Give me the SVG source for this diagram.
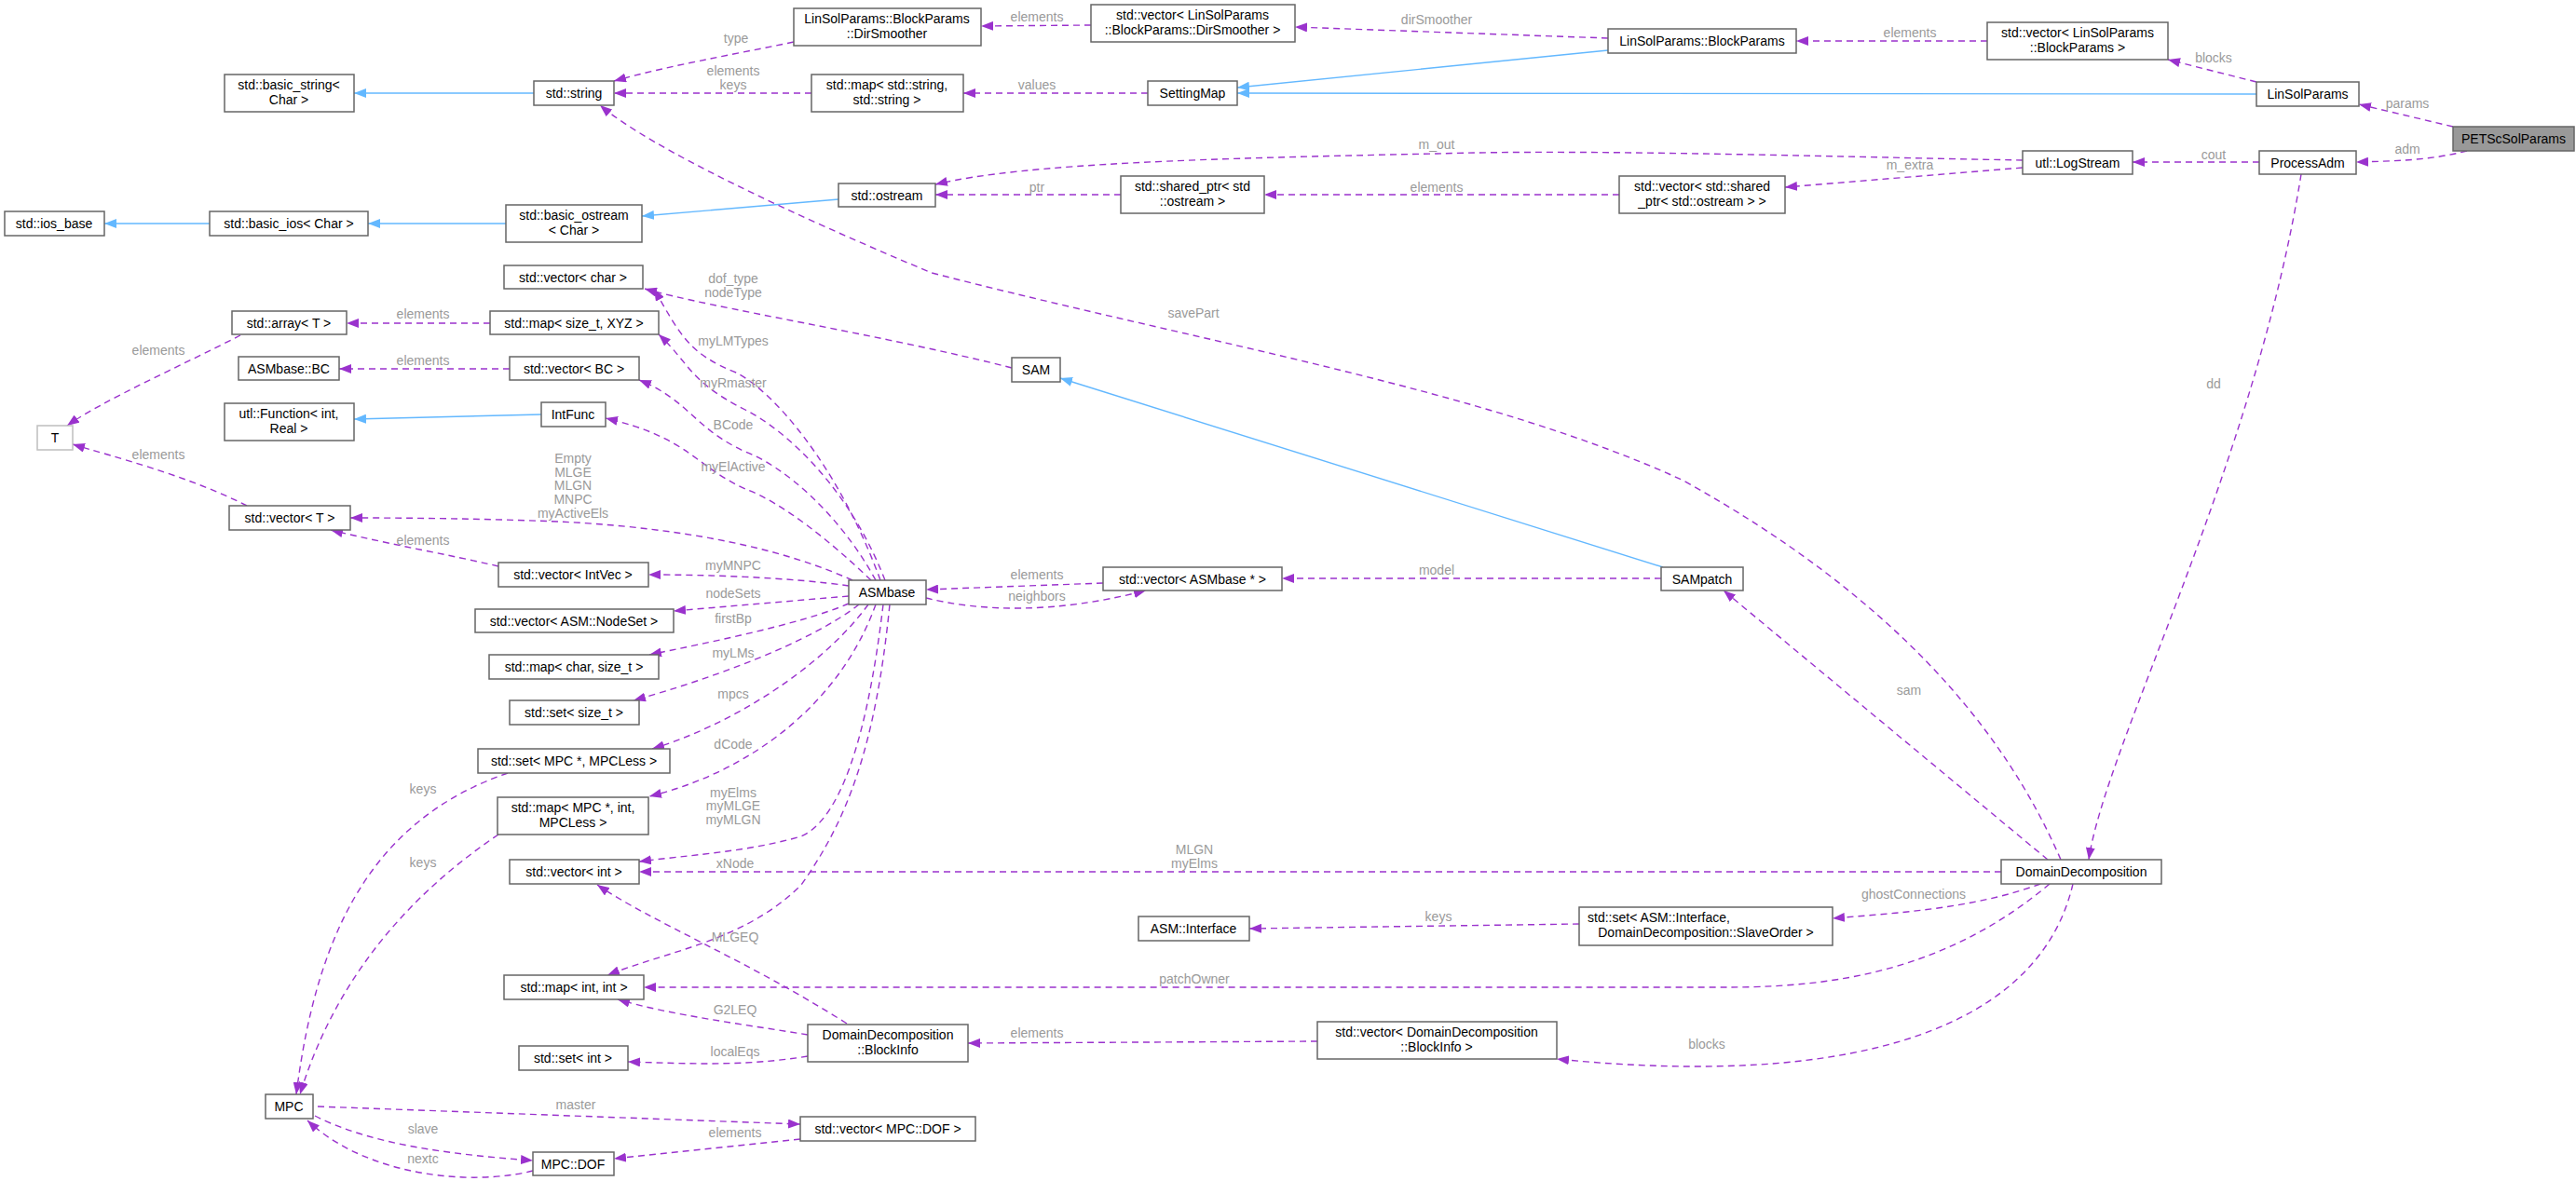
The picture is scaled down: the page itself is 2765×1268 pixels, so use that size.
<svg xmlns="http://www.w3.org/2000/svg" width="2765" height="1268" viewBox="0 0 2765 1268">
<style>
.n rect{fill:#fff;stroke:#666;stroke-width:1.5}
.n text{font-family:"Liberation Sans",Arial,sans-serif;font-size:14px;fill:#000;text-anchor:middle}
.e path{fill:none;stroke:#9a32cd;stroke-width:1.4;stroke-dasharray:7,5}
.i path{fill:none;stroke:#63b8ff;stroke-width:1.4}
.l{font-family:"Liberation Sans",Arial,sans-serif;font-size:14px;fill:#9a9a9a;text-anchor:middle}
</style>
<defs>
<marker id="a" markerUnits="userSpaceOnUse" markerWidth="14" markerHeight="10" refX="13" refY="5" orient="auto"><path d="M0,0 L13,5 L0,10 z" fill="#9a32cd"/></marker>
<marker id="b" markerUnits="userSpaceOnUse" markerWidth="14" markerHeight="10" refX="13" refY="5" orient="auto"><path d="M0,0 L13,5 L0,10 z" fill="#63b8ff"/></marker>
</defs>
<rect width="2765" height="1268" fill="#fff"/>
<g id="connectors">
<g class="i">
<path marker-end="url(#b)" d="M573,100 L380,100"/>
<path marker-end="url(#b)" d="M543,240 L395,240"/>
<path marker-end="url(#b)" d="M225,240 L112,240"/>
<path marker-end="url(#b)" d="M900,214 L689,232"/>
<path marker-end="url(#b)" d="M1726,54 L1328,94"/>
<path marker-end="url(#b)" d="M2422,101 L1328,100"/>
<path marker-end="url(#b)" d="M581,445 L380,450"/>
<path marker-end="url(#b)" d="M1785,609 L1138,406"/>
</g>
<g class="e">
<path marker-end="url(#a)" d="M1171,27 L1053,28"/>
<path marker-end="url(#a)" d="M852,45 C780,60 720,70 659,87"/>
<path marker-end="url(#a)" d="M1726,41 L1390,29"/>
<path marker-end="url(#a)" d="M2133,44 L1928,44"/>
<path marker-end="url(#a)" d="M2422,88 L2327,64"/>
<path marker-end="url(#a)" d="M2633,136 L2532,112"/>
<path marker-end="url(#a)" d="M2648,162 C2610,172 2570,173 2529,174"/>
<path marker-end="url(#a)" d="M2425,174 L2289,174"/>
<path marker-end="url(#a)" d="M2171,172 C1950,168 1700,160 1542,165 C1300,170 1100,175 1004,198"/>
<path marker-end="url(#a)" d="M2171,180 L1916,201"/>
<path marker-end="url(#a)" d="M1738,209 L1357,209"/>
<path marker-end="url(#a)" d="M1203,209 L1004,209"/>
<path marker-end="url(#a)" d="M871,100 L659,100"/>
<path marker-end="url(#a)" d="M1232,100 L1034,100"/>
<path marker-end="url(#a)" d="M2470,187 C2420,500 2260,800 2242,923"/>
<path marker-end="url(#a)" d="M2212,923 C2150,780 2030,640 1807,516 C1600,420 1300,370 1000,293 C850,230 700,160 644,113"/>
<path marker-end="url(#a)" d="M2198,923 L1850,634"/>
<path marker-end="url(#a)" d="M1783,621 L1376,621"/>
<path marker-end="url(#a)" d="M1184,626 L994,633"/>
<path marker-end="url(#a)" d="M994,642 C1050,656 1130,660 1230,634"/>
<path marker-end="url(#a)" d="M1086,395 C950,360 760,330 692,310"/>
<path marker-end="url(#a)" d="M945,623 C900,500 830,420 790,400 C740,380 730,360 702,310"/>
<path marker-end="url(#a)" d="M950,623 C910,520 840,460 800,440 C740,410 740,390 707,359"/>
<path marker-end="url(#a)" d="M940,623 C900,550 840,500 800,485 C745,460 740,430 686,408"/>
<path marker-end="url(#a)" d="M935,623 C890,580 840,540 800,525 C745,500 740,470 650,449"/>
<path marker-end="url(#a)" d="M526,347 L372,347"/>
<path marker-end="url(#a)" d="M547,396 L364,396"/>
<path marker-end="url(#a)" d="M258,360 C200,390 110,430 72,457"/>
<path marker-end="url(#a)" d="M265,543 C200,510 120,490 78,477"/>
<path marker-end="url(#a)" d="M915,623 C820,580 700,565 600,560 C520,557 450,556 376,556"/>
<path marker-end="url(#a)" d="M535,608 C480,595 420,585 355,569"/>
<path marker-end="url(#a)" d="M911,629 C850,620 760,617 696,617"/>
<path marker-end="url(#a)" d="M911,640 L723,656"/>
<path marker-end="url(#a)" d="M911,648 C860,670 760,690 697,703"/>
<path marker-end="url(#a)" d="M922,649 C870,690 760,730 680,752"/>
<path marker-end="url(#a)" d="M932,649 C880,720 780,780 700,804"/>
<path marker-end="url(#a)" d="M940,649 C900,760 800,830 697,855"/>
<path marker-end="url(#a)" d="M948,649 C930,800 900,880 860,898 C800,915 740,918 686,925"/>
<path marker-end="url(#a)" d="M955,649 C940,800 910,880 860,950 C800,1010 720,1020 652,1047"/>
<path marker-end="url(#a)" d="M545,830 C400,880 340,1000 318,1175"/>
<path marker-end="url(#a)" d="M535,896 C440,960 360,1050 322,1175"/>
<path marker-end="url(#a)" d="M2148,936 L686,936"/>
<path marker-end="url(#a)" d="M2190,949 C2120,975 2040,980 1967,986"/>
<path marker-end="url(#a)" d="M1695,992 L1341,997"/>
<path marker-end="url(#a)" d="M2200,949 C2080,1050 1950,1060 1850,1060 L691,1060"/>
<path marker-end="url(#a)" d="M2225,949 C2190,1100 2000,1170 1671,1137"/>
<path marker-end="url(#a)" d="M1414,1118 L1039,1120"/>
<path marker-end="url(#a)" d="M909,1099 C800,1030 700,990 641,950"/>
<path marker-end="url(#a)" d="M867,1111 C800,1100 720,1090 663,1073"/>
<path marker-end="url(#a)" d="M867,1134 C800,1145 740,1142 674,1140"/>
<path marker-end="url(#a)" d="M341,1188 L859,1207"/>
<path marker-end="url(#a)" d="M338,1198 C400,1230 490,1240 572,1246"/>
<path marker-end="url(#a)" d="M859,1223 L659,1244"/>
<path marker-end="url(#a)" d="M572,1257 C500,1275 390,1260 330,1203"/>
</g>
<g>
<text class="l" x="1113" y="23">elements</text>
<text class="l" x="790" y="46">type</text>
<text class="l" x="1542" y="26">dirSmoother</text>
<text class="l" x="2050" y="40">elements</text>
<text class="l" x="2376" y="67">blocks</text>
<text class="l" x="2584" y="116">params</text>
<text class="l" x="2584" y="165">adm</text>
<text class="l" x="2376" y="171">cout</text>
<text class="l" x="1542" y="160">m_out</text>
<text class="l" x="2050" y="182">m_extra</text>
<text class="l" x="1542" y="206">elements</text>
<text class="l" x="1113" y="206">ptr</text>
<text class="l" x="787" y="81">elements</text>
<text class="l" x="787" y="96">keys</text>
<text class="l" x="1113" y="96">values</text>
<text class="l" x="2376" y="417">dd</text>
<text class="l" x="1281" y="341">savePart</text>
<text class="l" x="2049" y="746">sam</text>
<text class="l" x="1542" y="617">model</text>
<text class="l" x="1113" y="622">elements</text>
<text class="l" x="1113" y="645">neighbors</text>
<text class="l" x="787" y="304">dof_type</text>
<text class="l" x="787" y="319">nodeType</text>
<text class="l" x="787" y="371">myLMTypes</text>
<text class="l" x="787" y="416">myRmaster</text>
<text class="l" x="787" y="461">BCode</text>
<text class="l" x="787" y="506">myElActive</text>
<text class="l" x="454" y="342">elements</text>
<text class="l" x="454" y="392">elements</text>
<text class="l" x="170" y="381">elements</text>
<text class="l" x="170" y="493">elements</text>
<text class="l" x="615" y="497">Empty</text>
<text class="l" x="615" y="512">MLGE</text>
<text class="l" x="615" y="526">MLGN</text>
<text class="l" x="615" y="541">MNPC</text>
<text class="l" x="615" y="556">myActiveEls</text>
<text class="l" x="454" y="585">elements</text>
<text class="l" x="787" y="612">myMNPC</text>
<text class="l" x="787" y="642">nodeSets</text>
<text class="l" x="787" y="669">firstBp</text>
<text class="l" x="787" y="706">myLMs</text>
<text class="l" x="787" y="750">mpcs</text>
<text class="l" x="787" y="804">dCode</text>
<text class="l" x="787" y="856">myElms</text>
<text class="l" x="787" y="870">myMLGE</text>
<text class="l" x="787" y="885">myMLGN</text>
<text class="l" x="789" y="932">xNode</text>
<text class="l" x="454" y="852">keys</text>
<text class="l" x="454" y="931">keys</text>
<text class="l" x="1282" y="917">MLGN</text>
<text class="l" x="1282" y="932">myElms</text>
<text class="l" x="2054" y="965">ghostConnections</text>
<text class="l" x="1544" y="989">keys</text>
<text class="l" x="1282" y="1056">patchOwner</text>
<text class="l" x="1832" y="1126">blocks</text>
<text class="l" x="1113" y="1114">elements</text>
<text class="l" x="789" y="1011">MLGEQ</text>
<text class="l" x="789" y="1089">G2LEQ</text>
<text class="l" x="789" y="1134">localEqs</text>
<text class="l" x="618" y="1191">master</text>
<text class="l" x="454" y="1217">slave</text>
<text class="l" x="789" y="1221">elements</text>
<text class="l" x="454" y="1249">nextc</text>
</g>
</g>
<g class="n">
<g id="PETScSolParams"><rect x="2633" y="136" width="130" height="26" style="fill:#999"/><text x="2698" y="154">PETScSolParams</text></g>
<g id="LinSolParams"><rect x="2422" y="88" width="110" height="26"/><text x="2477" y="106">LinSolParams</text></g>
<g id="vecBlockParams"><rect x="2133" y="24" width="194" height="40"/><text x="2230" y="40">std::vector&lt; LinSolParams</text><text x="2230" y="56">::BlockParams &gt;</text></g>
<g id="BlockParams"><rect x="1726" y="31" width="202" height="26"/><text x="1827" y="49">LinSolParams::BlockParams</text></g>
<g id="vecDirSmoother"><rect x="1171" y="5" width="219" height="40"/><text x="1280" y="21">std::vector&lt; LinSolParams</text><text x="1280" y="37">::BlockParams::DirSmoother &gt;</text></g>
<g id="DirSmoother"><rect x="852" y="9" width="201" height="40"/><text x="952" y="25">LinSolParams::BlockParams</text><text x="952" y="41">::DirSmoother</text></g>
<g id="string"><rect x="573" y="87" width="86" height="26"/><text x="616" y="105">std::string</text></g>
<g id="basic_string"><rect x="241" y="80" width="139" height="40"/><text x="310" y="96">std::basic_string&lt;</text><text x="310" y="112">Char &gt;</text></g>
<g id="mapString"><rect x="871" y="80" width="163" height="40"/><text x="952" y="96">std::map&lt; std::string,</text><text x="952" y="112">std::string &gt;</text></g>
<g id="SettingMap"><rect x="1232" y="87" width="96" height="26"/><text x="1280" y="105">SettingMap</text></g>
<g id="ProcessAdm"><rect x="2425" y="162" width="104" height="25"/><text x="2477" y="180">ProcessAdm</text></g>
<g id="LogStream"><rect x="2171" y="162" width="118" height="25"/><text x="2230" y="180">utl::LogStream</text></g>
<g id="vecShared"><rect x="1738" y="189" width="178" height="40"/><text x="1827" y="205">std::vector&lt; std::shared</text><text x="1827" y="221">_ptr&lt; std::ostream &gt; &gt;</text></g>
<g id="sharedPtr"><rect x="1203" y="189" width="154" height="40"/><text x="1280" y="205">std::shared_ptr&lt; std</text><text x="1280" y="221">::ostream &gt;</text></g>
<g id="ostream"><rect x="900" y="197" width="104" height="25"/><text x="952" y="215">std::ostream</text></g>
<g id="basic_ostream"><rect x="543" y="220" width="146" height="40"/><text x="616" y="236">std::basic_ostream</text><text x="616" y="252">&lt; Char &gt;</text></g>
<g id="basic_ios"><rect x="225" y="227" width="170" height="26"/><text x="310" y="245">std::basic_ios&lt; Char &gt;</text></g>
<g id="ios_base"><rect x="5" y="227" width="107" height="26"/><text x="58" y="245">std::ios_base</text></g>
<g id="vecChar"><rect x="541" y="285" width="149" height="25"/><text x="615" y="303">std::vector&lt; char &gt;</text></g>
<g id="array"><rect x="249" y="334" width="123" height="25"/><text x="310" y="352">std::array&lt; T &gt;</text></g>
<g id="mapXYZ"><rect x="526" y="334" width="181" height="25"/><text x="616" y="352">std::map&lt; size_t, XYZ &gt;</text></g>
<g id="BC"><rect x="256" y="383" width="108" height="25"/><text x="310" y="401">ASMbase::BC</text></g>
<g id="vecBC"><rect x="547" y="383" width="139" height="25"/><text x="616" y="401">std::vector&lt; BC &gt;</text></g>
<g id="Function"><rect x="241" y="433" width="139" height="40"/><text x="310" y="449">utl::Function&lt; int,</text><text x="310" y="465">Real &gt;</text></g>
<g id="IntFunc"><rect x="581" y="432" width="69" height="26"/><text x="615" y="450">IntFunc</text></g>
<g id="T"><rect x="40" y="457" width="38" height="26" style="stroke:#bfbfbf"/><text x="59" y="475">T</text></g>
<g id="vecT"><rect x="246" y="543" width="130" height="26"/><text x="311" y="561">std::vector&lt; T &gt;</text></g>
<g id="vecIntVec"><rect x="535" y="604" width="161" height="26"/><text x="615" y="622">std::vector&lt; IntVec &gt;</text></g>
<g id="ASMbase"><rect x="911" y="623" width="83" height="26"/><text x="952" y="641">ASMbase</text></g>
<g id="vecNodeSet"><rect x="510" y="654" width="213" height="25"/><text x="616" y="672">std::vector&lt; ASM::NodeSet &gt;</text></g>
<g id="mapChar"><rect x="525" y="703" width="182" height="26"/><text x="616" y="721">std::map&lt; char, size_t &gt;</text></g>
<g id="setSize"><rect x="547" y="752" width="139" height="26"/><text x="616" y="770">std::set&lt; size_t &gt;</text></g>
<g id="setMPC"><rect x="513" y="804" width="206" height="26"/><text x="616" y="822">std::set&lt; MPC *, MPCLess &gt;</text></g>
<g id="mapMPC"><rect x="534" y="856" width="162" height="40"/><text x="615" y="872">std::map&lt; MPC *, int,</text><text x="615" y="888">MPCLess &gt;</text></g>
<g id="vecInt"><rect x="547" y="923" width="139" height="26"/><text x="616" y="941">std::vector&lt; int &gt;</text></g>
<g id="mapInt"><rect x="541" y="1047" width="150" height="26"/><text x="616" y="1065">std::map&lt; int, int &gt;</text></g>
<g id="setInt"><rect x="557" y="1123" width="117" height="26"/><text x="615" y="1141">std::set&lt; int &gt;</text></g>
<g id="BlockInfo"><rect x="867" y="1100" width="172" height="40"/><text x="953" y="1116">DomainDecomposition</text><text x="953" y="1132">::BlockInfo</text></g>
<g id="MPC"><rect x="285" y="1175" width="51" height="26"/><text x="310" y="1193">MPC</text></g>
<g id="vecDOF"><rect x="859" y="1199" width="188" height="26"/><text x="953" y="1217">std::vector&lt; MPC::DOF &gt;</text></g>
<g id="DOF"><rect x="572" y="1237" width="87" height="25"/><text x="615" y="1255">MPC::DOF</text></g>
<g id="DomainDecomposition"><rect x="2148" y="923" width="172" height="26"/><text x="2234" y="941">DomainDecomposition</text></g>
<g id="Interface"><rect x="1222" y="984" width="119" height="26"/><text x="1281" y="1002">ASM::Interface</text></g>
<g id="setInterface"><rect x="1695" y="974" width="272" height="41"/><text x="1704" y="990" style="text-anchor:start">std::set&lt; ASM::Interface,</text><text x="1831" y="1006">DomainDecomposition::SlaveOrder &gt;</text></g>
<g id="vecBlockInfo"><rect x="1414" y="1097" width="257" height="40"/><text x="1542" y="1113">std::vector&lt; DomainDecomposition</text><text x="1542" y="1129">::BlockInfo &gt;</text></g>
<g id="SAM"><rect x="1086" y="384" width="52" height="26"/><text x="1112" y="402">SAM</text></g>
<g id="vecASMbase"><rect x="1184" y="609" width="192" height="25"/><text x="1280" y="627">std::vector&lt; ASMbase * &gt;</text></g>
<g id="SAMpatch"><rect x="1783" y="609" width="88" height="25"/><text x="1827" y="627">SAMpatch</text></g>
</g>
</svg>
